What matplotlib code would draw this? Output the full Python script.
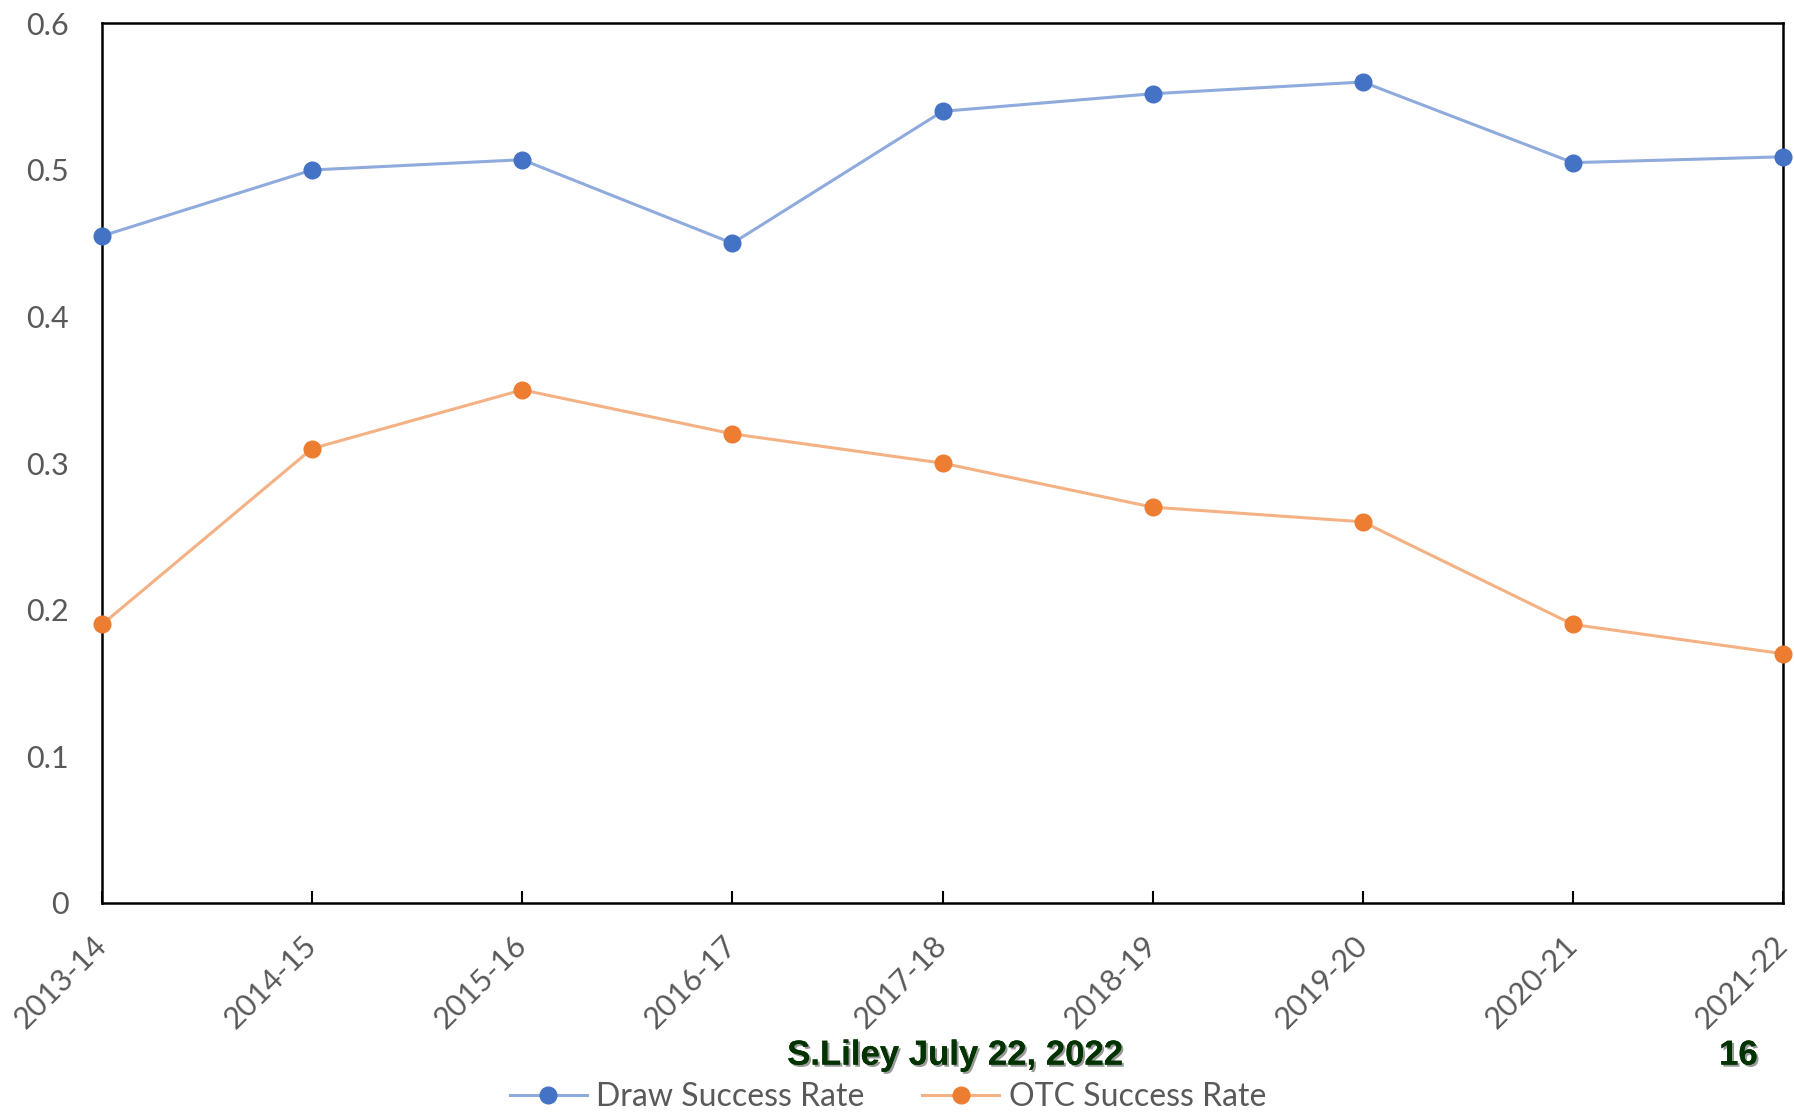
import matplotlib
matplotlib.use("Agg")
import matplotlib.pyplot as plt
import matplotlib.patheffects as pe
from matplotlib.lines import Line2D

seasons = ["2013-14", "2014-15", "2015-16", "2016-17", "2017-18",
           "2018-19", "2019-20", "2020-21", "2021-22"]
draw_rate = [0.455, 0.500, 0.507, 0.450, 0.540, 0.552, 0.560, 0.505, 0.509]
otc_rate = [0.190, 0.310, 0.350, 0.320, 0.300, 0.270, 0.260, 0.190, 0.170]
yticks = [0, 0.1, 0.2, 0.3, 0.4, 0.5, 0.6]
ytick_labels = ["0", "0.1", "0.2", "0.3", "0.4", "0.5", "0.6"]

plt.rcParams['font.family'] = ['Lato', 'DejaVu Sans']

fig = plt.figure(figsize=(17.94, 11.13), dpi=100)
ax = fig.add_axes([0.0569, 0.1887, 0.9370, 0.7903])

x = list(range(len(seasons)))
ax.plot(x, draw_rate, color='#8faadc', lw=2.2, marker='o', ms=12,
        mfc='#4472c4', mec='#4472c4', clip_on=False, zorder=3)
ax.plot(x, otc_rate, color='#f4b183', lw=2.2, marker='o', ms=12,
        mfc='#ed7d31', mec='#ed7d31', clip_on=False, zorder=3)

ax.set_xlim(0, len(seasons) - 1)
ax.set_ylim(0, 0.6)
ax.set_yticks(yticks)
ax.set_yticklabels(ytick_labels, fontsize=22, color='#595959')
ax.tick_params(axis='y', length=0, pad=24)
ax.set_xticks(x)
labels = ax.set_xticklabels(seasons, rotation=45, ha='right', va='top',
                            rotation_mode='anchor', fontsize=22, color='#595959')
ax.tick_params(axis='x', direction='in', length=9, width=1.5, color='black', pad=20)
import matplotlib.transforms as mtransforms
offset = mtransforms.ScaledTranslation(-10 / 100, 0, fig.dpi_scale_trans)
for lab in ax.get_xticklabels():
    lab.set_transform(lab.get_transform() + offset)
for s in ax.spines.values():
    s.set_linewidth(1.8)
    s.set_color('black')

handles = [
    Line2D([], [], color='#8faadc', lw=2.2, marker='o', ms=12, mfc='#4472c4', mec='#4472c4'),
    Line2D([], [], color='#f4b183', lw=2.2, marker='o', ms=12, mfc='#ed7d31', mec='#ed7d31'),
]
leg = fig.legend(handles, ["Draw Success Rate", "OTC Success Rate"], loc='center',
                 bbox_to_anchor=(0.495, 0.014), ncol=2, frameon=False, fontsize=23,
                 labelcolor='#595959', handlelength=2.4, columnspacing=1.8, handletextpad=0.3,
                 borderpad=0)

shadow = [pe.withSimplePatchShadow(offset=(1.5, -1.5), shadow_rgbFace='#555555', alpha=0.6), pe.Normal()]
fig.text(0.5325, 0.052, "S.Liley July 22, 2022", ha='center', va='center', fontsize=25,
         fontweight='bold', color='#003300', family=['Liberation Sans Narrow', 'Liberation Sans', 'DejaVu Sans'],
         path_effects=shadow)
fig.text(0.969, 0.052, "16", ha='center', va='center', fontsize=25,
         fontweight='bold', color='#003300', family=['Liberation Sans Narrow', 'Liberation Sans', 'DejaVu Sans'],
         path_effects=shadow)

fig.savefig("out.png", dpi=100, facecolor='white')
